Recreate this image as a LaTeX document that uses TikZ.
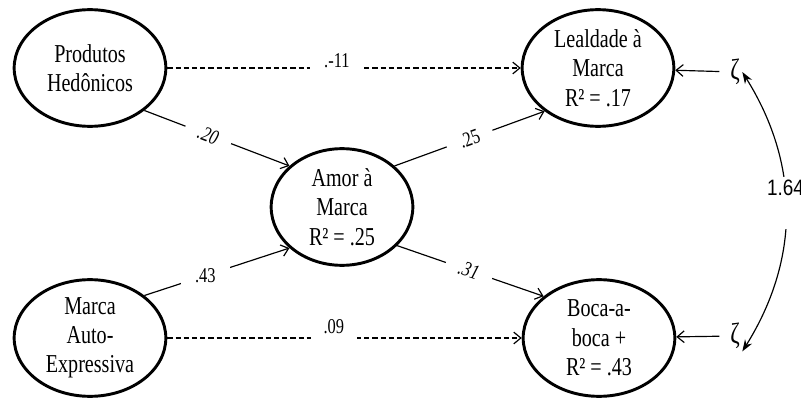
\documentclass[tikz,border=0pt]{standalone}
\usepackage{fontspec}
\setmainfont{Liberation Serif}[FakeStretch=0.78]
\newfontfamily\numfont{Liberation Sans}[FakeStretch=0.85]
\usetikzlibrary{shapes.geometric}
\usetikzlibrary{arrows.meta}

\tikzset{
	latent/.style={draw, ellipse, line width=2.5pt, minimum width=4.55cm, minimum height=3.5cm, inner sep=0pt, align=center, font=\fontsize{22}{25}\selectfont},
	effect/.style={line width=1pt, -{Straight Barb[length=6pt,width=10pt]}},
	weak/.style={effect, dash pattern=on 4.5pt off 2.5pt},
	coef/.style={fill=white, inner xsep=0.42cm, inner ysep=0.08cm, font=\fontsize{18}{20}\selectfont},
	zeta/.style={inner sep=2pt, font=\fontsize{25}{26}\selectfont},
	corr/.style={line width=1pt, {Stealth[length=10pt,width=7pt]}-{Stealth[length=10pt,width=7pt]}}
}

\begin{document}
\begin{tikzpicture}[x=0.03cm, y=-0.03cm]
\useasboundingbox (0,0) rectangle (801,398);
% latent variables
\node[latent] (ph) at (90,68) {Produtos\\Hedônicos};
\node[latent] (mae) at (90,338) {Marca\\Auto-\\Expressiva};
\node[latent, minimum width=4.25cm] (am) at (342,207) {Amor à\\Marca\\R² = .25};
\node[latent] (lm) at (598,68) {Lealdade à\\Marca\\R² = .17};
\node[latent] (bb) at (599,338) {Boca-a-\\boca +\\R² = .43};
\node[zeta] (z1) at (735,72) {ζ};
\node[zeta] (z2) at (735,336) {ζ};
% paths
\draw[weak] (ph) -- (lm) node[coef, pos=0.48, anchor=base, inner ysep=0.1cm] {.-11};
\draw[weak] (mae) -- (bb) node[coef, pos=0.47, anchor=base, yshift=0.15cm, inner xsep=0.38cm, inner ysep=0.22cm] {.09};
\draw[effect] (ph.-38) -- (am.142) node[coef, pos=0.44, sloped] {\itshape .20};
\draw[effect] (mae.38) -- (am.-142) node[coef, pos=0.42] {.43};
\draw[effect] (am.38) -- (lm.-141) node[coef, pos=0.5, sloped] {.25};
\draw[effect] (am.-35) -- (bb.143) node[coef, pos=0.49, sloped] {\itshape .31};
% disturbances
\draw[effect, shorten <=0.25cm] (z1) -- (lm);
\draw[effect, shorten <=0.25cm] (z2) -- (bb);
\draw[corr] (z1.east) to[bend left=32] node[pos=0.47, fill=white, inner xsep=2pt, inner ysep=0pt, text height=0.55cm, text depth=1cm, font=\numfont\fontsize{19}{20}\selectfont] {1.64} (z2.south east);
\end{tikzpicture}
\end{document}
